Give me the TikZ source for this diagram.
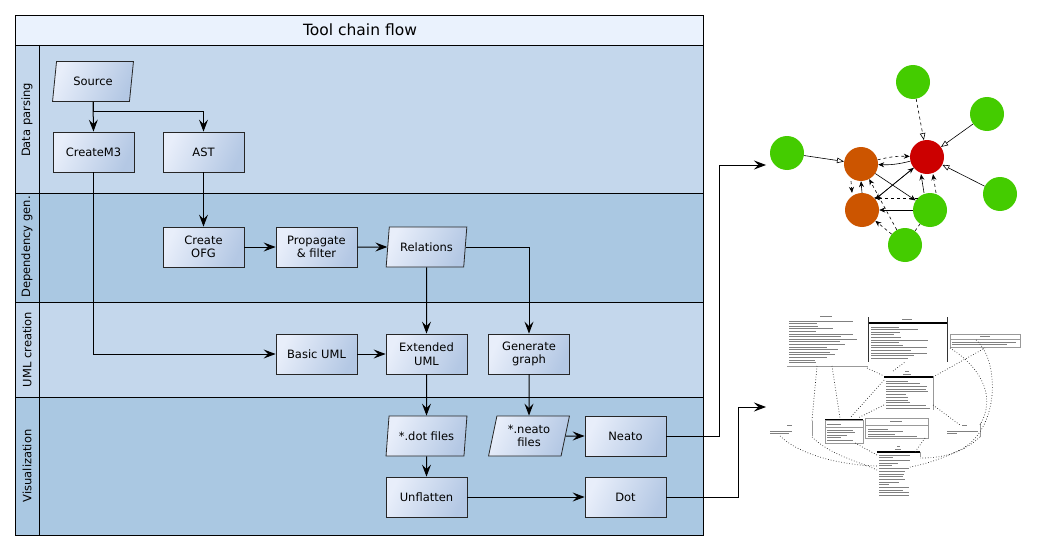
\documentclass[tikz,border=0pt]{standalone}
\usepackage{fontspec}
\setmainfont{DejaVu Sans}
\usetikzlibrary{arrows.meta,shapes.geometric,calc}
\definecolor{titlebg}{RGB}{234,242,253}
\definecolor{lanelight}{RGB}{196,215,236}
\definecolor{lanedark}{RGB}{170,200,226}
\definecolor{boxlight}{RGB}{232,238,250}
\definecolor{boxdark}{RGB}{180,200,228}
\definecolor{ggreen}{RGB}{68,204,0}
\definecolor{gred}{RGB}{204,0,0}
\definecolor{gorange}{RGB}{204,85,0}
\tikzset{
  lanerule/.style={line width=0.9pt,black},
  lanelabel/.style={rotate=90,font=\fontsize{11.5}{13}\selectfont},
  boxfill/.style={top color=boxlight,bottom color=boxdark,shading angle=65},
  proc/.style={draw=black!85,line width=0.8pt,boxfill,minimum width=81pt,minimum height=40pt,
    inner sep=0pt,align=center,font=\fontsize{11.5}{13.5}\selectfont},
  datanode/.style={proc,trapezium,trapezium left angle=76,trapezium right angle=104,
    trapezium stretches=true},
  arr/.style={line width=1pt,-{Stealth[length=12pt,width=9pt,inset=4.5pt]}},
  gnode/.style={circle,minimum size=34pt,inner sep=0pt},
  garr/.style={line width=0.6pt,-{Stealth[length=6pt,width=5pt,inset=2pt]}},
  gopen/.style={line width=0.6pt,-{Triangle[open,length=7pt,width=5.5pt]}},
  txtline/.style={black!50,line width=0.8pt},
  umlrule/.style={black!40,line width=0.6pt},
  umlhead/.style={black,line width=1.1pt},
  umldot/.style={black!85,line width=0.7pt,dotted},
}
\newcommand\fakelines[5]{%
  \foreach \k in {1,...,#3}{%
    \pgfmathsetmacro\flen{#5*(0.3+0.7*rnd)}%
    \draw[txtline] (#1,{#2+(\k-1)*#4}) -- ++(\flen,0);
  }%
}
\begin{document}
\begin{tikzpicture}[x=1pt,y=-1pt]
\useasboundingbox (0,0) rectangle (1037,551);
\pgfmathsetseed{7}
% ---------- lanes ----------
\fill[titlebg] (15,15) rectangle (703,45);
\fill[lanelight] (15,45) rectangle (703,193);
\fill[lanedark] (15,193) rectangle (703,302);
\fill[lanelight] (15,302) rectangle (703,397);
\fill[lanedark] (15,397) rectangle (703,535);
\draw[lanerule] (15,45) -- (703,45);
\draw[lanerule] (15,193) -- (703,193);
\draw[lanerule] (15,302) -- (703,302);
\draw[lanerule] (15,397) -- (703,397);
\draw[lanerule] (39,45) -- (39,535);
\draw[lanerule] (15,15) rectangle (703,535);
\node[font=\fontsize{15.5}{17}\selectfont] (title) at (360,30) {Tool chain flow};
\node[lanelabel] (l1) at (27,120) {Data parsing};
\node[lanelabel] (l2) at (27,247) {Dependency gen.};
\node[lanelabel] (l3) at (27,349.5) {UML creation};
\node[lanelabel] (l4) at (27,466) {Visualization};
% ---------- nodes ----------
\node[datanode] (src) at (93,81.5) {Source};
\node[proc] (cm3) at (93.5,152) {CreateM3};
\node[proc] (ast) at (203.5,152) {AST};
\node[proc] (ofg) at (203.5,247) {Create\\OFG};
\node[proc] (prop) at (316.5,247) {Propagate\\\& filter};
\node[datanode] (rel) at (426.5,247) {Relations};
\node[proc] (basic) at (316.5,354) {Basic UML};
\node[proc] (ext) at (426.5,354) {Extended\\UML};
\node[proc] (gen) at (529,354) {Generate\\graph};
\node[datanode] (dotf) at (426.5,436) {*.dot files};
\node[datanode] (neatof) at (529,436) {*.neato\\files};
\node[proc] (neato) at (625.5,436) {Neato};
\node[proc] (unfl) at (426.5,497) {Unflatten};
\node[proc] (dot) at (625.5,497) {Dot};
% ---------- connectors ----------
\draw[arr] (src.south) -- (cm3.north);
\draw[arr] (src.south) -- ++(0,10) -| (ast.north);
\draw[arr] (cm3.south) |- (basic.west);
\draw[arr] (ast) -- (ofg);
\draw[arr] (ofg) -- (prop);
\draw[arr] (prop) -- (rel);
\draw[arr] (rel.south) -- (ext.north);
\draw[arr] (rel.east) -| (gen.north);
\draw[arr] (basic) -- (ext);
\draw[arr] (ext.south) -- (dotf.north);
\draw[arr] (gen.south) -- (neatof.north);
\draw[arr] (neatof) -- (neato);
\draw[arr] (dotf.south) -- (unfl.north);
\draw[arr] (unfl) -- (dot);
\coordinate (gin) at (766,165);
\coordinate (uin) at (766,407);
\draw[arr] (neato.east) -- (719,436) |- (gin);
\draw[arr] (dot.east) -- (738,497) |- (uin);
% ---------- dependency graph ----------
\node[gnode,fill=ggreen] (g1) at (913,82) {};
\node[gnode,fill=ggreen] (g2) at (987,114) {};
\node[gnode,fill=ggreen] (g3) at (787,153) {};
\node[gnode,fill=gred] (r) at (927,157) {};
\node[gnode,fill=gorange] (o1) at (861,164) {};
\node[gnode,fill=gorange] (o2) at (862,210) {};
\node[gnode,fill=ggreen] (g4) at (1000,194) {};
\node[gnode,fill=ggreen] (g5) at (930,210) {};
\node[gnode,fill=ggreen] (g6) at (905,245) {};
\draw[gopen,dashed] (g1) -- (r);
\draw[gopen] (g2) -- (r);
\draw[gopen] (g4) -- (r);
\draw[gopen] (g3) -- (o1);
\draw[garr,dashed] (o1) to[bend left=8] (r);
\draw[garr] (r) to[bend left=8] (o1);
\draw[garr,dashed] ([xshift=-10pt]o1.south) -- ([xshift=-10pt]o2.north);
\draw[garr] (o2.north) -- (o1.south);
\draw[garr] (o2) -- (r);
\draw[garr] (r) -- (o2);
\draw[garr] (g5) -- (o2);
\draw[garr,dashed] (g5.north west) -- (o2.north east);
\draw[garr] (o1) -- (g5);
\draw[garr] ([xshift=-6pt]g5.north) -- ([xshift=-6pt]r.south);
\draw[garr,dashed] ([xshift=6pt]g5.north) -- ([xshift=6pt]r.south);
\draw[garr,dashed] (g6) -- (o2);
\draw[garr,dashed] (g6) -- (o1);
\draw[dashed,line width=0.6pt] (g6) -- (g5);
% ---------- UML thumbnail ----------
% box A
\draw[txtline] (820,316) -- ++(12,0);
\fakelines{789}{321}{17}{2.6}{70}
\draw[umlrule] (787,366) -- (868,366);
% box B
\draw[txtline] (902,319) -- ++(10,0);
\draw[umlhead] (868,323) -- (947,323);
\draw[black!80,line width=0.8pt] (868,317) -- (868,362) (947,317) -- (947,362);
\fakelines{871}{327}{13}{2.6}{66}
% box C
\draw[umlrule] (950,334) rectangle (1020,347);
\draw[txtline] (980,336) -- ++(10,0);
\draw[umlrule] (950,339) -- (1020,339);
\fakelines{952}{342}{2}{2.4}{65}
% box D
\draw[txtline] (905,371) -- ++(4,0);
\draw[txtline] (903,374) -- ++(8,0);
\draw[umlhead] (884,377) -- (933,377);
\draw[umlrule] (933,377) -- (933,410);
\fakelines{886}{381}{11}{2.7}{45}
% box E
\draw[umlhead] (825,420) -- (863,420);
\draw[umlrule] (825,420) rectangle (863,443);
\draw[umlrule] (825,427) -- (863,427);
\fakelines{827}{424}{1}{2.5}{15}
\fakelines{827}{430}{5}{2.5}{34}
% box F
\draw[umlrule] (865,418) rectangle (928,438);
\draw[txtline] (890,421) -- ++(12,0);
\draw[umlrule] (865,425) -- (928,425);
\fakelines{868}{429}{4}{2.5}{58}
% box G
\draw[txtline] (897,446) -- ++(3,0);
\draw[txtline] (895,449) -- ++(6,0);
\draw[umlhead] (877,452) -- (920,452);
\draw[umlrule] (920,452) -- (920,457);
\fakelines{879}{455}{16}{2.7}{32}
% side labels
\draw[txtline] (787,425) -- ++(5,0);
\fakelines{770}{431}{2}{2.6}{35}
\draw[umlrule] (812,421) -- (812,436);
\draw[txtline] (962,425) -- ++(5,0);
\fakelines{947}{431}{2}{2.6}{32}
\draw[umlrule] (980,423) -- (980,437);
% dotted relations
\draw[umldot] (817,366) -- (812,421);
\draw[umldot] (832,366) -- (840,418);
\draw[umldot] (867,368) -- (884,376);
\draw[umldot] (884,380) -- (850,418);
\draw[umldot] (884,405) -- (858,418);
\draw[umldot] (893,371) -- (905,362);
\draw[umldot] (933,377) -- (985,348);
\draw[umldot] (950,348) .. controls (985,370) and (995,400) .. (980,425);
\draw[umldot] (976,340) .. controls (1000,360) and (1000,430) .. (960,450) .. controls (935,462) and (920,465) .. (910,467);
\draw[umldot] (780,436) .. controls (800,455) and (840,465) .. (877,466);
\draw[umldot] (812,437) .. controls (830,455) and (860,462) .. (877,470);
\draw[umldot] (980,437) .. controls (960,455) and (940,458) .. (920,458);
\draw[umldot] (855,443) -- (877,455);
\draw[umldot] (925,438) -- (915,452);
\draw[umldot] (933,405) -- (960,425);
\end{tikzpicture}
\end{document}
